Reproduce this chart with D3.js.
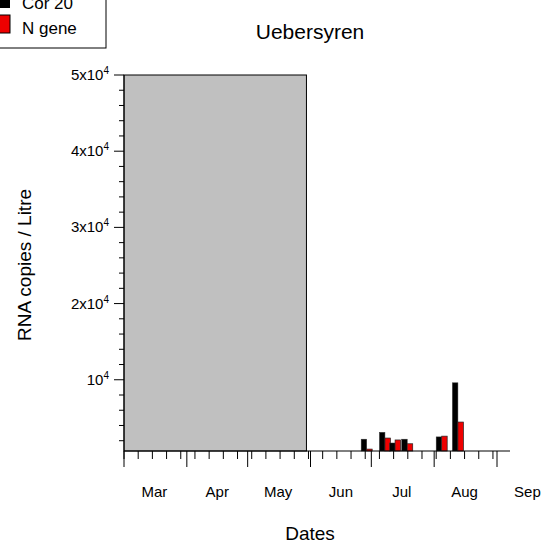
<!DOCTYPE html><html><head><meta charset="utf-8"><script src="https://cdn.jsdelivr.net/npm/d3@7"></script>
<style>body{margin:0;background:#fff}text{font-family:Arial,"Liberation Sans",sans-serif}</style></head><body><svg id="c" width="550" height="545"></svg>
<script>
const dates=["2020-06-26","2020-07-05","2020-07-10","2020-07-16","2020-08-02","2020-08-10"];
const cov=[2200,3100,1700,2200,2500,9600];
const ngene=[900,2350,2100,1600,2600,4450];
const monthLabels=["Mar","Apr","May","Jun","Jul","Aug","Sep"];
const yTicks=[10000,20000,30000,40000,50000];
const yTickLabels=["10","2x10","3x10","4x10","5x10"];
const svg=d3.select("#c");
const p=d3.timeParse("%Y-%m-%d");
const x=d3.scaleTime().domain([p("2020-03-01"),p("2020-09-01")]).range([124,497]);
const y=d3.scaleLinear().domain([650,50000]).range([451,75]);
const xEnd=510;
svg.append("rect").attr("x",124).attr("y",75).attr("width",x(p("2020-05-30"))-124).attr("height",376).attr("fill","#c0c0c0").attr("stroke","#000");
const bw=5.5;
dates.forEach((d,i)=>{
 const x0=x(p(d));
 svg.append("rect").attr("x",x0).attr("y",y(cov[i])).attr("width",bw).attr("height",451-y(cov[i])).attr("fill","#000").attr("stroke","#333").attr("stroke-width",0.5);
 svg.append("rect").attr("x",x0+bw).attr("y",y(ngene[i])).attr("width",bw).attr("height",451-y(ngene[i])).attr("fill","#e00").attr("stroke","#222").attr("stroke-width",0.7);
});
svg.append("line").attr("x1",124).attr("x2",124).attr("y1",75).attr("y2",451).attr("stroke","#000");
svg.append("line").attr("x1",124).attr("x2",xEnd).attr("y1",451).attr("y2",451).attr("stroke","#000");
for(let v=2000;v<=50000;v+=2000){const yy=y(v);const maj=v%10000===0;svg.append("line").attr("x1",maj?114:119).attr("x2",124).attr("y1",yy).attr("y2",yy).attr("stroke","#000");}
yTicks.forEach((v,i)=>{const t=svg.append("text").attr("x",109).attr("y",y(v)+5).attr("text-anchor","end").attr("font-size",15);t.append("tspan").text(yTickLabels[i]);t.append("tspan").attr("dy",-6).attr("font-size",10).text("4");});
d3.range(0,27).forEach(k=>{const d=d3.timeDay.offset(p("2020-03-01"),k*7);const xx=x(d);if(xx<=xEnd)svg.append("line").attr("x1",xx).attr("x2",xx).attr("y1",451).attr("y2",459).attr("stroke","#000");});
d3.timeMonth.range(p("2020-03-01"),p("2020-09-02")).forEach((d,i)=>{svg.append("line").attr("x1",x(d)).attr("x2",x(d)).attr("y1",451).attr("y2",467).attr("stroke","#000");
 const mid=d3.timeDay.offset(d,15);svg.append("text").attr("x",x(mid)).attr("y",497).attr("text-anchor","middle").attr("font-size",15).text(monthLabels[i]);});
svg.append("text").attr("x",310).attr("y",39).attr("text-anchor","middle").attr("font-size",21).text("Uebersyren");
svg.append("text").attr("x",310).attr("y",540).attr("text-anchor","middle").attr("font-size",19).text("Dates");
svg.append("text").attr("transform","translate(31,265) rotate(-90)").attr("text-anchor","middle").attr("font-size",19).text("RNA copies / Litre");
svg.append("rect").attr("x",-5).attr("y",-10).attr("width",111).attr("height",58).attr("fill","#fff").attr("stroke","#000");
svg.append("rect").attr("x",-2).attr("y",-6).attr("width",12).attr("height",14).attr("fill","#000");
svg.append("rect").attr("x",-2).attr("y",15).attr("width",12).attr("height",18).attr("fill","#e00").attr("stroke","#000");
svg.append("text").attr("x",22).attr("y",9).attr("font-size",17).text("Cor 20");
svg.append("text").attr("x",22).attr("y",34).attr("font-size",17).text("N gene");
</script></body></html>
